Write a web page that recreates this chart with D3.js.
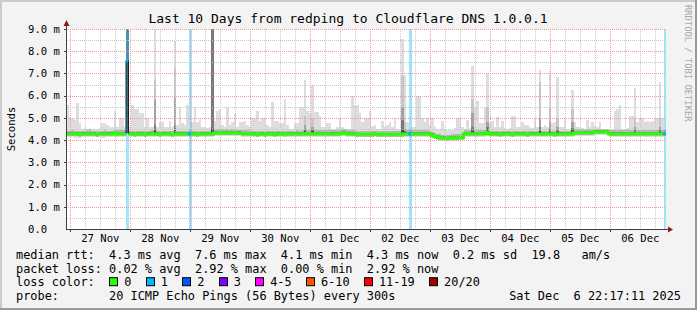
<!DOCTYPE html>
<html>
<head>
<meta charset="utf-8">
<script src="https://cdn.jsdelivr.net/npm/d3@7"></script>
<style>
body { margin: 0; background: #f3f3f3; }
text { font-family: "DejaVu Sans Mono", monospace; fill: #000; }
</style>
</head>
<body>
<script>
const width = 697;
const height = 310;

// ---- data (hourly bins, ms) ----
const startTime = new Date(2025, 10, 26, 22, 17, 11);
const endTime = new Date(2025, 11, 6, 22, 17, 11);

const median = [
  4.27,4.27,4.28,4.27,4.27,4.26,4.27,4.27,4.28,4.28,4.27,4.27,4.26,4.27,4.27,4.28,4.27,4.27,4.27,4.32,
  4.28,4.29,4.28,4.28,7.6,4.27,4.27,4.26,4.27,4.27,4.27,4.26,4.27,4.27,4.28,4.27,4.27,4.26,4.27,4.27,
  4.27,4.27,4.26,4.27,4.27,4.27,4.27,4.27,4.27,4.28,4.27,4.27,4.26,4.27,4.27,4.27,4.27,4.27,4.27,4.32,
  4.32,4.32,4.33,4.32,4.32,4.31,4.32,4.32,4.31,4.31,4.30,4.30,4.30,4.29,4.27,4.27,4.26,4.27,4.27,4.26,
  4.27,4.27,4.27,4.26,4.27,4.27,4.27,4.26,4.27,4.27,4.27,4.27,4.28,4.27,4.29,4.29,4.30,4.29,4.29,4.29,
  4.29,4.29,4.29,4.29,4.29,4.28,4.28,4.28,4.28,4.28,4.32,4.32,4.28,4.28,4.28,4.28,4.26,4.26,4.26,4.26,
  4.26,4.26,4.26,4.27,4.26,4.26,4.26,4.26,4.26,4.26,4.26,4.26,4.26,4.26,4.26,4.28,4.28,4.28,4.28,4.28,
  4.28,4.28,4.28,4.28,4.28,4.27,4.22,4.17,4.13,4.10,4.09,4.09,4.08,4.09,4.10,4.11,4.11,4.12,4.12,4.29,
  4.29,4.29,4.29,4.29,4.29,4.29,4.29,4.29,4.37,4.27,4.27,4.27,4.27,4.26,4.27,4.27,4.27,4.27,4.26,4.27,
  4.27,4.27,4.27,4.27,4.26,4.27,4.27,4.27,4.27,4.27,4.27,4.27,4.27,4.27,4.27,4.26,4.27,4.27,4.27,4.27,
  4.27,4.27,4.27,4.33,4.33,4.33,4.33,4.33,4.33,4.33,4.33,4.36,4.36,4.36,4.36,4.36,4.36,4.28,4.28,4.28,
  4.28,4.28,4.28,4.28,4.28,4.29,4.29,4.29,4.29,4.29,4.29,4.29,4.29,4.29,4.29,4.29,4.29,4.29,4.29,4.29
];

const smokeMax = [
  5.6,5.0,4.95,4.9,5.67,4.77,4.5,4.55,4.5,4.55,4.5,4.5,4.5,4.55,4.75,4.75,4.7,4.6,4.6,5.3,
  4.6,5.0,5.0,4.6,9.5,4.6,5.6,5.4,5.4,5.2,5.2,4.6,5.0,4.6,4.6,9.5,4.6,4.8,4.8,4.6,
  4.6,4.85,4.6,8.45,4.7,5.5,4.75,4.7,5.6,4.5,4.8,5.5,4.8,4.95,4.6,4.6,4.55,4.6,9.5,4.85,
  5.3,5.4,4.7,4.6,5.5,4.7,4.8,5.2,4.6,4.8,4.8,4.85,4.7,4.6,5.0,5.0,5.3,4.85,5.0,5.0,
  4.7,4.6,5.7,4.85,4.85,4.75,4.75,5.85,4.7,4.5,4.5,4.75,4.75,5.5,5.5,6.7,5.3,5.2,6.5,5.25,
  5.25,5.1,4.6,4.6,4.75,4.75,4.5,4.5,4.6,5.0,4.6,4.5,4.5,4.5,6.0,5.6,5.6,5.2,4.8,5.0,
  5.0,5.3,4.65,4.7,4.5,4.5,4.85,4.6,4.7,4.8,4.6,5.0,4.5,4.5,8.55,6.95,4.8,4.5,4.6,4.6,
  6.0,6.0,5.0,4.8,5.0,4.7,5.0,4.6,4.5,4.5,4.85,4.45,4.45,4.45,4.45,4.55,5.0,5.0,4.6,4.5,
  4.9,4.5,7.35,5.5,5.75,4.75,4.75,5.5,7.0,4.75,4.85,4.6,5.05,4.6,4.85,4.55,4.5,4.55,5.1,5.1,
  4.6,4.6,4.8,4.7,4.7,4.6,4.55,5.0,4.6,7.15,4.6,4.7,4.6,7.13,4.75,4.8,6.85,4.6,4.6,4.95,
  4.5,4.5,6.27,4.8,4.6,4.6,4.55,4.5,4.9,4.6,4.8,4.65,4.6,4.8,4.5,4.45,4.45,4.45,4.5,5.3,
  5.4,5.6,4.5,4.45,4.55,5.1,5.1,6.35,4.8,5.0,5.0,4.8,4.85,4.8,4.85,5.0,5.0,6.6,5.0,4.5
];

const smokeMin = [
  4.15,4.12,4.12,4.1,4.1,4.1,4.12,4.12,4.14,4.14,4.12,4.15,4.15,4.12,4.1,4.1,4.12,4.14,4.15,4.15,
  4.14,4.15,4.15,4.15,4.22,4.15,4.14,4.15,4.15,4.13,4.15,4.15,4.16,4.15,4.15,4.14,4.15,4.15,4.16,4.15,
  4.15,4.16,4.15,4.14,4.15,4.15,4.16,4.15,4.15,4.15,4.16,4.15,4.15,4.15,4.16,4.15,4.15,4.15,4.12,4.18,
  4.18,4.18,4.19,4.18,4.18,4.17,4.18,4.18,4.17,4.17,4.16,4.16,4.16,4.15,4.14,4.14,4.13,4.14,4.14,4.13,
  4.14,4.12,4.12,4.13,4.14,4.14,4.14,4.13,4.14,4.14,4.14,4.14,4.15,4.14,4.16,4.14,4.16,4.16,4.16,4.16,
  4.16,4.16,4.16,4.16,4.16,4.15,4.15,4.15,4.15,4.15,4.18,4.18,4.15,4.15,4.15,4.15,4.13,4.13,4.13,4.13,
  4.13,4.13,4.13,4.14,4.13,4.13,4.13,4.13,4.13,4.13,4.13,4.13,4.13,4.13,4.13,4.15,4.15,4.15,4.15,4.15,
  4.15,4.15,4.15,4.15,4.15,4.14,4.08,4.03,4.0,3.97,3.96,3.96,3.95,3.96,3.97,3.98,3.98,3.99,3.99,4.15,
  4.16,4.16,4.16,4.16,4.16,4.16,4.16,4.16,4.2,4.14,4.14,4.14,4.14,4.13,4.14,4.14,4.14,4.14,4.13,4.14,
  4.14,4.14,4.14,4.14,4.13,4.14,4.14,4.14,4.14,4.14,4.14,4.14,4.14,4.14,4.14,4.13,4.14,4.14,4.14,4.14,
  4.14,4.14,4.14,4.2,4.2,4.2,4.2,4.2,4.2,4.2,4.2,4.22,4.22,4.22,4.22,4.22,4.22,4.15,4.15,4.15,
  4.15,4.15,4.15,4.15,4.15,4.16,4.16,4.16,4.16,4.16,4.16,4.16,4.16,4.16,4.16,4.16,4.16,4.16,4.16,4.2
];

// denser smoke layers for the bigger spikes: [bin, level2, level3, level4, level5]
const spikes = [
  [24, 9.5, 9.5, 9.5, 7.6],
  [35, 6.7, 5.8, 4.7, 4.45],
  [43, 7.25, 5.9, 4.7, 4.45],
  [58, 9.5, 9.5, 9.0, 4.5],
  [95, 5.1, 4.7, 4.5, 4.4],
  [98, 5.0, 4.6, 4.45, 4.4],
  [134, 6.9, 5.5, 4.9, 4.45],
  [135, 4.8, 4.5, 4.4, 4.35],
  [162, 5.85, 5.2, 4.6, 4.4],
  [168, 5.5, 4.8, 4.6, 4.5],
  [189, 6.6, 5.0, 4.6, 4.4],
  [193, 5.5, 4.8, 4.5, 4.4],
  [196, 5.0, 4.6, 4.45, 4.35],
  [202, 5.4, 4.8, 4.55, 4.45],
  [227, 5.0, 4.6, 4.45, 4.35],
  [237, 5.0, 4.6, 4.45, 4.35]
];

// hours with lost packets: [bin, loss class]
const lossBins = [[24, 1], [49, 1], [137, 1], [239, 1]];

const yTicks = [0, 1, 2, 3, 4, 5, 6, 7, 8, 9];
const yTickLabels = ['0.0', '1.0 m', '2.0 m', '3.0 m', '4.0 m', '5.0 m', '6.0 m', '7.0 m', '8.0 m', '9.0 m'];
const dayLabels = ['27 Nov', '28 Nov', '29 Nov', '30 Nov', '01 Dec', '02 Dec', '03 Dec', '04 Dec', '05 Dec', '06 Dec'];

const lossLabels = ['0', '1', '2', '3', '4-5', '6-10', '11-19', '20/20'];
const lossColors = ['#26ff00', '#00b8ff', '#0059ff', '#7e00ff', '#ff00ff', '#ff5500', '#ff0000', '#a10000'];

const rttStats = ['4.3', '7.6', '4.1', '4.3', '0.2', '19.8'];
const lossStats = ['0.02', '2.92', '0.00', '2.92'];
const probeText = '20 ICMP Echo Pings (56 Bytes) every 300s';
const stampText = 'Sat Dec  6 22:17:11 2025';

// ---- layout ----
const pLeft = 66, pRight = 666, pTop = 29, pBottom = 229;
const keep = s => s.replace(/ /g, '\u00a0');   // keep runs of spaces

const svg = d3.select('body').append('svg').attr('width', width).attr('height', height);

svg.append('rect').attr('width', width).attr('height', height).attr('fill', '#f3f3f3');
// 3d frame
svg.append('rect').attr('x', 0).attr('y', 0).attr('width', width).attr('height', 2).attr('fill', '#cbcbcb');
svg.append('rect').attr('x', 0).attr('y', 0).attr('width', 2).attr('height', height).attr('fill', '#cbcbcb');
svg.append('rect').attr('x', 0).attr('y', height - 2).attr('width', width).attr('height', 2).attr('fill', '#999');
svg.append('rect').attr('x', width - 2).attr('y', 0).attr('width', 2).attr('height', height).attr('fill', '#999');

const x = d3.scaleTime().domain([startTime, endTime]).range([pLeft, pRight]);
const y = d3.scaleLinear().domain([0, 9]).range([pBottom, pTop]);

svg.append('rect').attr('x', pLeft).attr('y', pTop).attr('width', pRight - pLeft).attr('height', pBottom - pTop).attr('fill', '#fff');

svg.append('clipPath').attr('id', 'clip')
  .append('rect').attr('x', pLeft).attr('y', pTop).attr('width', pRight - pLeft).attr('height', pBottom - pTop);

const bins = median.map((m, i) => ({
  i: i,
  t0: d3.timeHour.offset(startTime, i),
  t1: d3.timeHour.offset(startTime, i + 1),
  med: m,
  hi: smokeMax[i],
  lo: smokeMin[i]
}));
const bx = d => x(d.t0);
const bw = d => x(d.t1) - x(d.t0);

const plot = svg.append('g').attr('clip-path', 'url(#clip)').attr('shape-rendering', 'crispEdges');

// outer smoke
plot.selectAll('.smoke').data(bins).enter().append('rect')
  .attr('x', bx).attr('width', bw)
  .attr('y', d => y(d.hi)).attr('height', d => y(d.lo) - y(d.hi))
  .attr('fill', '#dddddd');

// inner smoke around the median
plot.selectAll('.core').data(bins).enter().append('rect')
  .attr('x', bx).attr('width', bw)
  .attr('y', d => y(d.med + 0.16)).attr('height', d => y(d.med - 0.1) - y(d.med + 0.16))
  .attr('fill', '#b6b6b6');
plot.selectAll('.core2').data(bins).enter().append('rect')
  .attr('x', bx).attr('width', bw)
  .attr('y', d => y(d.med + 0.08)).attr('height', d => y(d.med - 0.05) - y(d.med + 0.08))
  .attr('fill', '#888888');

// denser layers on spikes
const levelColors = ['#c6c6c6', '#a2a2a2', '#7a7a7a', '#4a4a4a'];
levelColors.forEach((c, k) => {
  plot.selectAll('.lvl' + k).data(spikes).enter().append('rect')
    .attr('x', s => bx(bins[s[0]])).attr('width', s => bw(bins[s[0]]))
    .attr('y', s => y(s[k + 1]))
    .attr('height', s => y(bins[s[0]].lo + 0.1) - y(s[k + 1]))
    .attr('fill', c);
});

// loss bars
plot.selectAll('.loss').data(lossBins).enter().append('rect')
  .attr('x', l => bx(bins[l[0]])).attr('width', l => bw(bins[l[0]]) + 0.5)
  .attr('y', pTop).attr('height', pBottom - pTop)
  .attr('fill', l => lossColors[l[1]]).attr('fill-opacity', 0.38);

// grid
const grid = svg.append('g').attr('shape-rendering', 'crispEdges').attr('stroke-dasharray', '1,1');
const minorY = d3.range(0.5, 9, 1);
const majorY = yTicks.filter(v => v > 0);
grid.selectAll('.gy').data(minorY).enter().append('line')
  .attr('x1', pLeft).attr('x2', pRight).attr('y1', d => Math.round(y(d)) + 0.5).attr('y2', d => Math.round(y(d)) + 0.5)
  .attr('stroke', '#c8c8c8');
const midnights = d3.timeDay.range(startTime, endTime);
const sixHours = d3.timeHour.every(6).range(startTime, endTime).filter(t => t.getHours() !== 0);
grid.selectAll('.gx').data(sixHours).enter().append('line')
  .attr('x1', d => Math.round(x(d)) + 0.5).attr('x2', d => Math.round(x(d)) + 0.5)
  .attr('y1', pTop).attr('y2', pBottom)
  .attr('stroke', '#c8c8c8');
grid.selectAll('.my').data(majorY).enter().append('line')
  .attr('x1', pLeft).attr('x2', pRight).attr('y1', d => Math.round(y(d)) + 0.5).attr('y2', d => Math.round(y(d)) + 0.5)
  .attr('stroke', '#f09a9a');
grid.selectAll('.mx').data(midnights).enter().append('line')
  .attr('x1', d => Math.round(x(d)) + 0.5).attr('x2', d => Math.round(x(d)) + 0.5)
  .attr('y1', pTop).attr('y2', pBottom)
  .attr('stroke', '#f09a9a');

// median lines
const pts = [];
bins.forEach(d => {
  const cls = (lossBins.find(l => l[0] === d.i) || [0, 0])[1];
  pts.push({ x: x(d.t0), y: y(d.med), cls: cls });
  pts.push({ x: x(d.t1), y: y(d.med), cls: cls });
});
svg.append('path')
  .attr('clip-path', 'url(#clip)')
  .attr('d', d3.line().x(p => p.x).y(p => p.y)(pts))
  .attr('fill', 'none').attr('stroke', '#202020').attr('stroke-width', 1);
[0, 1].forEach(c => {
  svg.append('path')
    .attr('clip-path', 'url(#clip)')
    .attr('d', d3.line().defined(p => p.cls === c).x(p => p.x).y(p => p.y)(pts))
    .attr('fill', 'none').attr('stroke', lossColors[c]).attr('stroke-width', 3);
});

// axes
const axisCol = '#404040';
svg.append('line').attr('x1', pLeft + 0.5).attr('x2', pLeft + 0.5).attr('y1', pBottom + 0.5).attr('y2', pTop - 5)
  .attr('stroke', axisCol);
svg.append('line').attr('x1', pLeft).attr('x2', pRight + 3).attr('y1', pBottom + 0.5).attr('y2', pBottom + 0.5)
  .attr('stroke', axisCol);
svg.append('path').attr('d', `M${pLeft - 2.5},${pTop - 3}L${pLeft + 3.5},${pTop - 3}L${pLeft + 0.5},${pTop - 9}Z`).attr('fill', '#8b1a1a');
svg.append('path').attr('d', `M${pRight + 2},${pBottom - 2.5}L${pRight + 2},${pBottom + 3.5}L${pRight + 7},${pBottom + 0.5}Z`).attr('fill', '#8b1a1a');

svg.append('g').selectAll('line').data(majorY).enter().append('line')
  .attr('x1', pLeft - 2).attr('x2', pLeft).attr('y1', d => Math.round(y(d)) + 0.5).attr('y2', d => Math.round(y(d)) + 0.5)
  .attr('stroke', axisCol);
svg.append('g').selectAll('line').data(midnights).enter().append('line')
  .attr('x1', d => Math.round(x(d)) + 0.5).attr('x2', d => Math.round(x(d)) + 0.5)
  .attr('y1', pBottom).attr('y2', pBottom + 3)
  .attr('stroke', axisCol);

svg.append('g').selectAll('text').data(yTicks).enter().append('text')
  .attr('x', 28).attr('y', d => y(d)).attr('dy', '0.36em')
  .style('font-size', '10.6px')
  .text((d, i) => yTickLabels[i]);

const noons = midnights.map(t => d3.timeHour.offset(t, 12));
svg.append('g').selectAll('text').data(noons).enter().append('text')
  .attr('x', d => x(d)).attr('y', 238).attr('dy', '0.36em')
  .attr('text-anchor', 'middle')
  .style('font-size', '10.6px')
  .text((d, i) => dayLabels[i]);

// titles
svg.append('text').attr('x', 348).attr('y', 23).attr('text-anchor', 'middle')
  .style('font-size', '13px')
  .text('Last 10 Days from redping to Cloudflare DNS 1.0.0.1');
svg.append('text').attr('transform', 'translate(15,129) rotate(-90)').attr('text-anchor', 'middle')
  .style('font-size', '10.6px')
  .text('Seconds');
svg.append('text').attr('transform', 'translate(685,5) rotate(90)')
  .style('font-size', '8.8px').style('fill', '#a8a8a8')
  .text('RRDTOOL / TOBI OETIKER');

// legend
const cw = 7.165;
const lx = 16;
const rows = [258.8, 272.5, 286.2, 299.9];
const leg = svg.append('g').style('font-size', '11.9px');
leg.append('text').attr('x', lx).attr('y', rows[0])
  .text(keep(`median rtt:  ${rttStats[0]} ms avg  ${rttStats[1]} ms max  ${rttStats[2]} ms min  ${rttStats[3]} ms now  ${rttStats[4]} ms sd  ${rttStats[5]}   am/s`));
leg.append('text').attr('x', lx).attr('y', rows[1])
  .text(keep(`packet loss: ${lossStats[0]} % avg  ${lossStats[1]} % max  ${lossStats[2]} % min  ${lossStats[3]} % now`));
leg.append('text').attr('x', lx).attr('y', rows[2]).text('loss color:');
leg.append('text').attr('x', lx).attr('y', rows[3]).text(keep('probe:       ' + probeText));
leg.append('text').attr('x', 681).attr('y', rows[3]).attr('text-anchor', 'end').text(keep(stampText));

let bxPos = lx + 13 * cw;
lossLabels.forEach((lab, k) => {
  leg.append('rect').attr('x', Math.round(bxPos) + 0.5).attr('y', rows[2] - 8.5).attr('width', 8).attr('height', 8)
    .attr('fill', lossColors[k]).attr('stroke', '#000').attr('stroke-width', 1);
  leg.append('text').attr('x', bxPos + 15).attr('y', rows[2]).text(lab);
  bxPos += 15 + (lab.length + 2) * cw;
});
</script>
</body>
</html>
